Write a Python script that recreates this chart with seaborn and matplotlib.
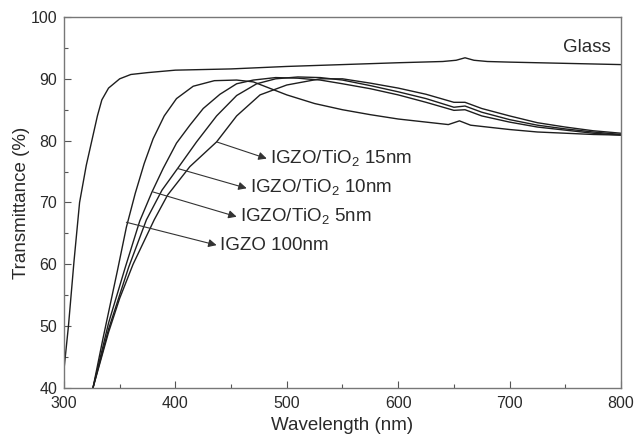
import pandas as pd
import seaborn as sns
import matplotlib.pyplot as plt
from matplotlib.ticker import MultipleLocator

# transmittance spectra
glass_wl = [299, 300, 304, 309, 314, 320, 325, 330, 334, 340, 350, 360, 375, 400, 450,
            500, 550, 600, 640, 652, 660, 668, 680, 700, 750, 800]
glass_t = [40, 43, 50, 60.5, 70, 76, 80, 84, 86.6, 88.5, 90, 90.7, 91, 91.4, 91.6,
           92, 92.3, 92.6, 92.8, 93, 93.4, 93.0, 92.8, 92.7, 92.5, 92.3]

igzo_wl = [326, 335, 348, 356, 364, 372, 380, 390, 401, 416, 435, 455, 470, 480, 500,
           525, 550, 575, 600, 625, 645, 655, 665, 700, 725, 750, 775, 800]
igzo_t = [40, 48, 59, 66, 71.5, 76.3, 80.3, 84, 86.8, 88.8, 89.7, 89.8, 89.5, 88.8, 87.4,
          86.0, 85.0, 84.2, 83.5, 83.0, 82.6, 83.2, 82.5, 81.8, 81.4, 81.2, 81.0, 80.9]

tio5_wl = [326, 340, 355, 368, 379, 389, 401, 413, 425, 440, 455, 470, 490, 510, 530,
           550, 575, 600, 625, 650, 660, 675, 700, 725, 750, 775, 800]
tio5_t = [40, 50.5, 59.5, 67, 71.7, 75.5, 79.6, 82.5, 85.2, 87.5, 89.2, 89.8, 90.2, 90.1, 89.8,
          89.2, 88.4, 87.4, 86.2, 84.9, 85.0, 84.0, 83.0, 82.2, 81.7, 81.2, 80.9]

tio10_wl = [326, 340, 358, 374, 388, 402, 419, 437, 455, 473, 490, 510, 530, 550, 575,
            600, 625, 650, 660, 675, 700, 725, 750, 775, 800]
tio10_t = [40, 49.5, 59.5, 67.2, 72, 75.5, 79.8, 84, 87.3, 89.2, 90, 90.3, 90.2, 89.8, 88.9,
           87.9, 86.8, 85.4, 85.6, 84.6, 83.4, 82.5, 81.9, 81.4, 81.0]

tio15_wl = [326, 340, 350, 362, 381, 393, 413, 437, 455, 476, 500, 530, 550, 575, 600,
            625, 650, 660, 675, 700, 725, 750, 775, 800]
tio15_t = [40, 49, 54.5, 60, 67.2, 71.2, 75.8, 79.8, 84, 87.4, 89, 90, 90, 89.3, 88.5,
           87.5, 86.2, 86.2, 85.2, 84, 82.9, 82.2, 81.6, 81.2]

series = [("Glass", glass_wl, glass_t),
          ("IGZO 100nm", igzo_wl, igzo_t),
          ("IGZO/TiO2 5nm", tio5_wl, tio5_t),
          ("IGZO/TiO2 10nm", tio10_wl, tio10_t),
          ("IGZO/TiO2 15nm", tio15_wl, tio15_t)]

# label text, arrow start on curve, arrow end at label
labels = ["IGZO/TiO$_\\mathrm{2}$ 15nm", "IGZO/TiO$_\\mathrm{2}$ 10nm",
          "IGZO/TiO$_\\mathrm{2}$ 5nm", "IGZO 100nm"]
arrow_from = [(437, 79.8), (402, 75.5), (380, 71.7), (356, 66.8)]
arrow_to = [(482, 77.1), (464, 72.3), (455, 67.7), (437, 63.1)]


sns.set_style("ticks")
plt.rcParams['font.family'] = ['Liberation Sans', 'DejaVu Sans']
plt.rcParams['mathtext.fontset'] = 'custom'
plt.rcParams['mathtext.rm'] = 'Liberation Sans'
plt.rcParams['text.color'] = '#2a2a2a'
plt.rcParams['axes.labelcolor'] = '#2a2a2a'
plt.rcParams['xtick.color'] = '#555555'
plt.rcParams['ytick.color'] = '#555555'
plt.rcParams['xtick.labelcolor'] = '#2a2a2a'
plt.rcParams['ytick.labelcolor'] = '#2a2a2a'

fig = plt.figure(figsize=(6.36, 4.41), dpi=100)
ax = fig.add_axes([0.1006, 0.1202, 0.8758, 0.8413])

frames = []
for name, wl, t in series:
	frames.append(pd.DataFrame({"wavelength": wl, "T": t, "sample": name}))
df = pd.concat(frames)

sns.lineplot(data=df, x="wavelength", y="T", units="sample", estimator=None,
	color="#1e1e1e", linewidth=1.0, sort=False, ax=ax)

for lab, p0, p1 in zip(labels, arrow_from, arrow_to):
	ax.annotate("", xy=p1, xytext=p0,
		arrowprops=dict(arrowstyle="-|>", color="#333333", lw=0.8, mutation_scale=12,
			shrinkA=0, shrinkB=0))
	ax.text(p1[0] + 3, p1[1], lab, fontsize=13.5, va="center", ha="left")

ax.text(791, 95.0, "Glass", fontsize=13.5, va="center", ha="right")

ax.set_xlim(300, 800)
ax.set_ylim(40, 100)
ax.xaxis.set_major_locator(MultipleLocator(100))
ax.xaxis.set_minor_locator(MultipleLocator(50))
ax.yaxis.set_major_locator(MultipleLocator(10))
ax.yaxis.set_minor_locator(MultipleLocator(5))
ax.tick_params(which="both", direction="in", labelsize=11.5)
ax.tick_params(axis="x", which="major", pad=6)
ax.tick_params(axis="y", which="major", pad=5)
ax.tick_params(which="major", length=5, width=0.8)
ax.tick_params(which="minor", length=3, width=0.8)
for s in ax.spines.values():
	s.set_color("#777777")
	s.set_linewidth(1.0)

ax.set_xlabel("Wavelength (nm)", fontsize=13.5, labelpad=4)
ax.set_ylabel("Transmittance (%)", fontsize=13.5, labelpad=0)

plt.savefig("out.png", dpi=100)
